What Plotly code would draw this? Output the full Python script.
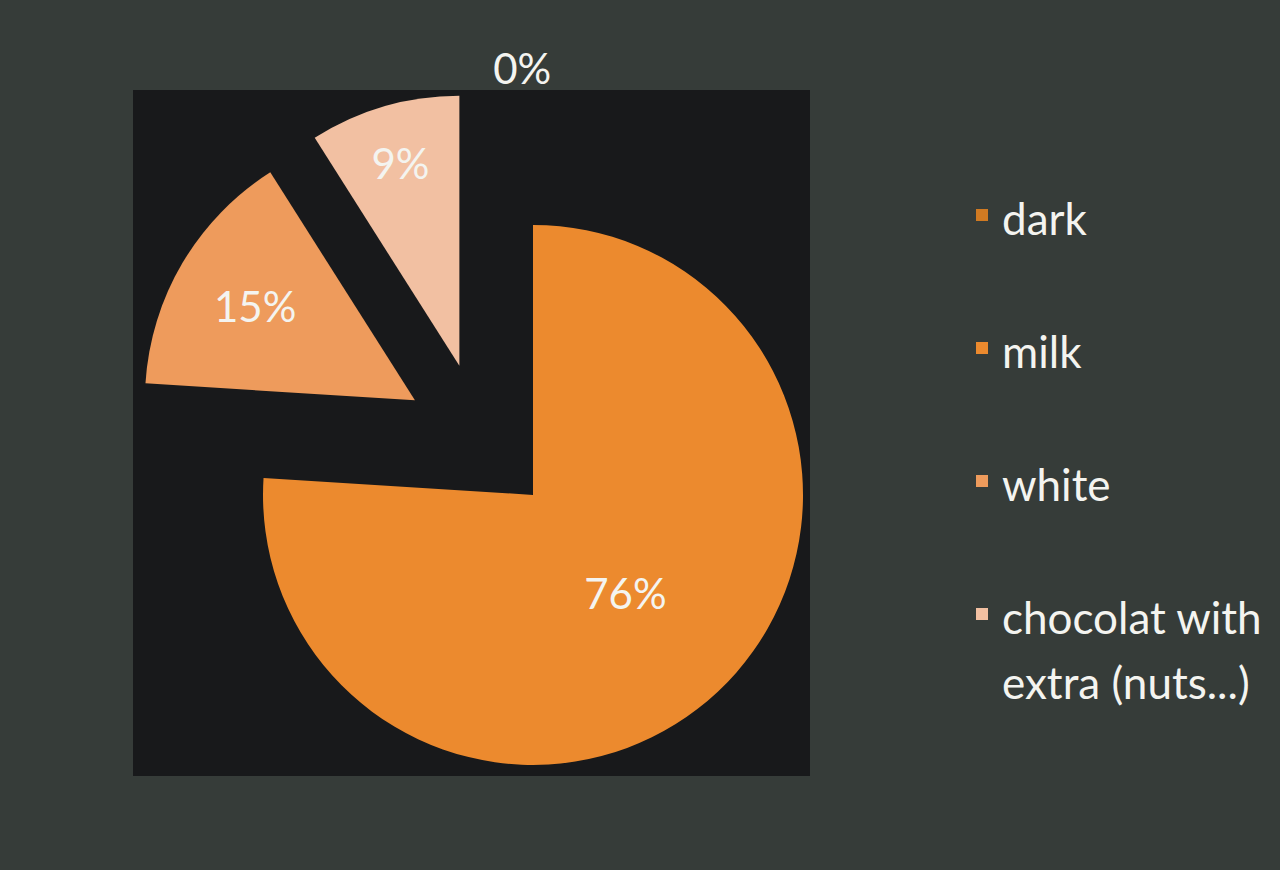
import plotly.graph_objects as go

categories = ["dark", "milk", "white", "chocolat with extra (nuts...)"]
values = [0, 76, 15, 9]
colors = ["#D07A22", "#EC8A2E", "#EE9B5C", "#F2C0A2"]

# legend labels: wrap long names and pad with a blank line for spacing
legend_lines = [
    ["dark", "\u00a0"],
    ["milk", "\u00a0"],
    ["white", "\u00a0"],
    ["chocolat with", "extra (nuts...)"],
]
legend_labels = ['<span style="font-size:44px">' + "<br>".join(l) + "</span>"
                 for l in legend_lines]

W, H = 1280, 870
cx, cy = 480.7, 439.2
pull = 0.283
r = 270
half = r * (1 + pull)

fig = go.Figure()
fig.add_trace(go.Pie(
    labels=legend_labels,
    values=values,
    sort=False,
    direction="clockwise",
    rotation=0,
    pull=[pull] * len(values),
    marker=dict(colors=colors, line=dict(width=0)),
    textinfo="percent",
    texttemplate="%{percent:.0%}",
    textposition=["outside", "inside", "inside", "inside"],
    insidetextorientation="horizontal",
    textfont=dict(family="Lato", size=42, color="#F4F4F0"),
    outsidetextfont=dict(family="Lato", size=42, color="#F4F4F0"),
    domain=dict(x=[(cx - half) / W, (cx + half) / W],
                y=[(H - cy - half) / H, (H - cy + half) / H]),
    showlegend=True,
))

fig.update_layout(
    width=W, height=H,
    autosize=False,
    margin=dict(l=0, r=0, t=0, b=0, pad=0, autoexpand=False),
    paper_bgcolor="#363c39",
    font=dict(family="Lato", color="#F4F4F0"),
    shapes=[dict(type="rect", xref="paper", yref="paper",
                 x0=133 / W, x1=810 / W, y0=1 - 776 / H, y1=1 - 90 / H,
                 fillcolor="#18191b", line=dict(width=0), layer="below")],
    legend=dict(x=962 / W, y=1 - 176 / H, xanchor="left", yanchor="top",
                font=dict(family="Lato", size=50, color="#F4F4F0"),
                valign="top", bgcolor="rgba(0,0,0,0)"),
)

fig.write_html("out.html", config={"displayModeBar": False},
               post_script="document.body.style.margin='0';document.body.style.overflow='hidden';")
